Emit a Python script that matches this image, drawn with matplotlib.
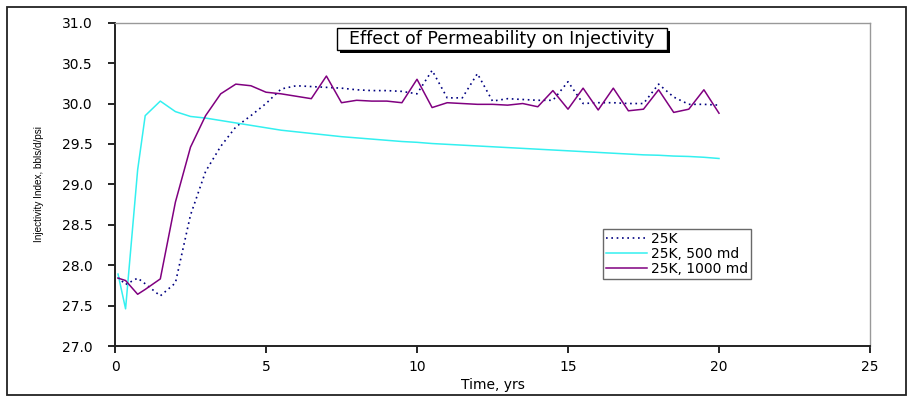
import matplotlib
matplotlib.use("Agg")
import matplotlib.pyplot as plt
from matplotlib.patches import Rectangle

plt.rcParams['font.family'] = ['DejaVu Sans']

time_yrs = [0.1, 0.35, 0.75, 1.0, 1.5, 2.0, 2.5, 3.0, 3.5, 4.0, 4.5, 5.0, 5.5, 6.0,
            6.5, 7.0, 7.5, 8.0, 8.5, 9.0, 9.5, 10.0, 10.5, 11.0, 11.5, 12.0, 12.5,
            13.0, 13.5, 14.0, 14.5, 15.0, 15.5, 16.0, 16.5, 17.0, 17.5, 18.0, 18.5,
            19.0, 19.5, 20.0]

inj_25k = [27.85, 27.76, 27.84, 27.77, 27.62, 27.78, 28.62, 29.16, 29.47, 29.71,
           29.85, 30.00, 30.18, 30.22, 30.21, 30.20, 30.19, 30.17, 30.16, 30.16,
           30.15, 30.12, 30.41, 30.07, 30.07, 30.37, 30.03, 30.06, 30.05, 30.04,
           30.04, 30.27, 30.00, 30.01, 30.01, 30.00, 30.00, 30.24, 30.08, 29.99,
           29.99, 29.98]

inj_500md = [27.89, 27.46, 29.18, 29.85, 30.03, 29.90, 29.84, 29.82, 29.79, 29.76,
             29.73, 29.70, 29.67, 29.65, 29.63, 29.61, 29.59, 29.575, 29.56, 29.545,
             29.53, 29.52, 29.505, 29.495, 29.485, 29.475, 29.465, 29.455, 29.445,
             29.435, 29.425, 29.415, 29.405, 29.395, 29.385, 29.375, 29.365, 29.36,
             29.35, 29.345, 29.335, 29.32]

inj_1000md = [27.84, 27.81, 27.64, 27.70, 27.83, 28.78, 29.46, 29.85, 30.12, 30.24,
              30.22, 30.14, 30.12, 30.09, 30.06, 30.34, 30.01, 30.04, 30.03, 30.03,
              30.01, 30.30, 29.95, 30.01, 30.00, 29.99, 29.99, 29.98, 30.00, 29.96,
              30.16, 29.93, 30.19, 29.92, 30.19, 29.91, 29.93, 30.17, 29.89, 29.93,
              30.17, 29.88]

series_labels = ["25K", "25K, 500 md", "25K, 1000 md"]
x_ticks = [0, 5, 10, 15, 20, 25]
y_ticks = [27.0, 27.5, 28.0, 28.5, 29.0, 29.5, 30.0, 30.5, 31.0]

W, H = 908, 397
fig = plt.figure(figsize=(W / 100, H / 100), dpi=100)
fig.patch.set_facecolor('white')

def fx(px):
    return px / W

def fy(py):
    return 1 - py / H

# outer border
fig.patches.append(Rectangle((fx(7), fy(395)), fx(906) - fx(7), fy(7) - fy(395),
                             transform=fig.transFigure, fill=False,
                             edgecolor='#222222', linewidth=1.3))

ax = fig.add_axes([fx(115), fy(346), fx(870) - fx(115), fy(22.7) - fy(346)])

ax.plot(time_yrs, inj_25k, color='#000080', linestyle=(0, (1, 2.2)), linewidth=1.2,
        label=series_labels[0])
ax.plot(time_yrs, inj_500md, color='#33F0F0', linewidth=1.1, label=series_labels[1])
ax.plot(time_yrs, inj_1000md, color='#800080', linewidth=1.1, label=series_labels[2])

ax.set_xlim(0, 25)
ax.set_ylim(27.0, 31.0)
ax.set_xticks(x_ticks)
ax.set_yticks(y_ticks)
ax.set_xticklabels([str(v) for v in x_ticks])
ax.set_yticklabels([f"{v:.1f}" for v in y_ticks])
ax.tick_params(axis='both', direction='out', length=5, width=1.2, labelsize=10,
               color='black')
ax.tick_params(axis='y', pad=11)
ax.tick_params(axis='x', pad=5)

for s in ['left', 'bottom']:
    ax.spines[s].set_color('#222222')
    ax.spines[s].set_linewidth(1.4)
for s in ['top', 'right']:
    ax.spines[s].set_color('#999999')
    ax.spines[s].set_linewidth(1.0)

ax.set_xlabel("Time, yrs", fontsize=10, labelpad=3)
ax.set_ylabel("Injectivity Index, bbls/d/psi", fontsize=7.2, labelpad=13,
              family=['Liberation Sans', 'DejaVu Sans'])

leg = ax.legend(loc='upper left', bbox_to_anchor=(0.646, 0.362), borderaxespad=0,
                fontsize=10, frameon=True, fancybox=False, handlelength=3.0,
                handletextpad=0.3, borderpad=0.2, labelspacing=0.08)
leg.get_frame().set_edgecolor('#444444')
leg.get_frame().set_linewidth(1.0)

# title box with shadow
fig.patches.append(Rectangle((fx(340), fy(53)), fx(670) - fx(340), fy(31) - fy(53),
                             transform=fig.transFigure, facecolor='black',
                             edgecolor='black', linewidth=0))
fig.patches.append(Rectangle((fx(337), fy(50)), fx(667) - fx(337), fy(28) - fy(50),
                             transform=fig.transFigure, facecolor='white',
                             edgecolor='black', linewidth=1.0))
fig.text(fx(502), fy(39.5), "Effect of Permeability on Injectivity", ha='center',
         va='center', fontsize=12.5)

fig.savefig("out.png", dpi=100)
